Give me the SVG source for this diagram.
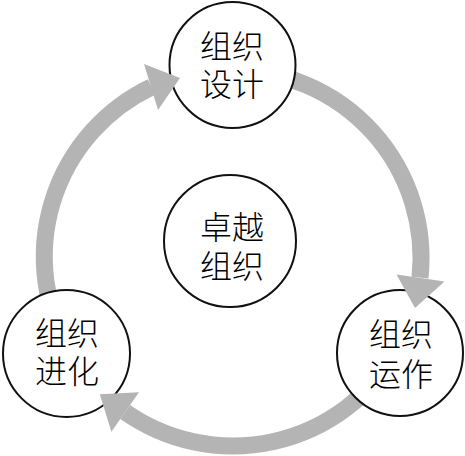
<svg xmlns="http://www.w3.org/2000/svg" width="465" height="456" viewBox="0 0 465 456">
<style>
.ring{fill:none;stroke:#b4b4b4;stroke-width:17;stroke-linecap:butt}
.head{fill:#b4b4b4}
.node{fill:#fff;stroke:#111;stroke-width:2}
.lbl{font-family:"Noto Sans CJK SC","Noto Sans",sans-serif;font-size:32px;font-weight:300;fill:#000;text-anchor:middle}
</style>
<rect width="465" height="456" fill="#fff"/>
<g id="connectors">
<path class="ring" d="M70.2,352 A188,188 0 0 1 151.5,87"/>
<path class="ring" d="M233,70 A188,188 0 0 1 420,277.6"/>
<path class="ring" d="M395.8,352 A188,188 0 0 1 125.2,412"/>
</g>
<g id="center">
<circle class="node" cx="230" cy="241" r="66"/>
<text class="lbl" x="232" y="239"><tspan x="232">卓越</tspan><tspan x="232" dy="39">组织</tspan></text>
</g>
<g id="design">
<circle class="node" cx="232.5" cy="65" r="63"/>
<text class="lbl" x="232" y="58"><tspan x="232">组织</tspan><tspan x="232" dy="38">设计</tspan></text>
</g>
<g id="operate">
<circle class="node" cx="400" cy="353" r="63"/>
<text class="lbl" x="401" y="346"><tspan x="401">组织</tspan><tspan x="401" dy="40">运作</tspan></text>
</g>
<g id="evolve">
<circle class="node" cx="66.5" cy="353.5" r="63.5"/>
<text class="lbl" x="67" y="345"><tspan x="67">组织</tspan><tspan x="67" dy="38">进化</tspan></text>
</g>
<g id="arrowheads">
<polygon class="head" points="144,64 158,110 180,78"/>
<polygon class="head" points="396.5,274.5 444.5,281.5 415,308"/>
<polygon class="head" points="139,392.3 111.4,431.7 99.8,394.2"/>
</g>
</svg>
